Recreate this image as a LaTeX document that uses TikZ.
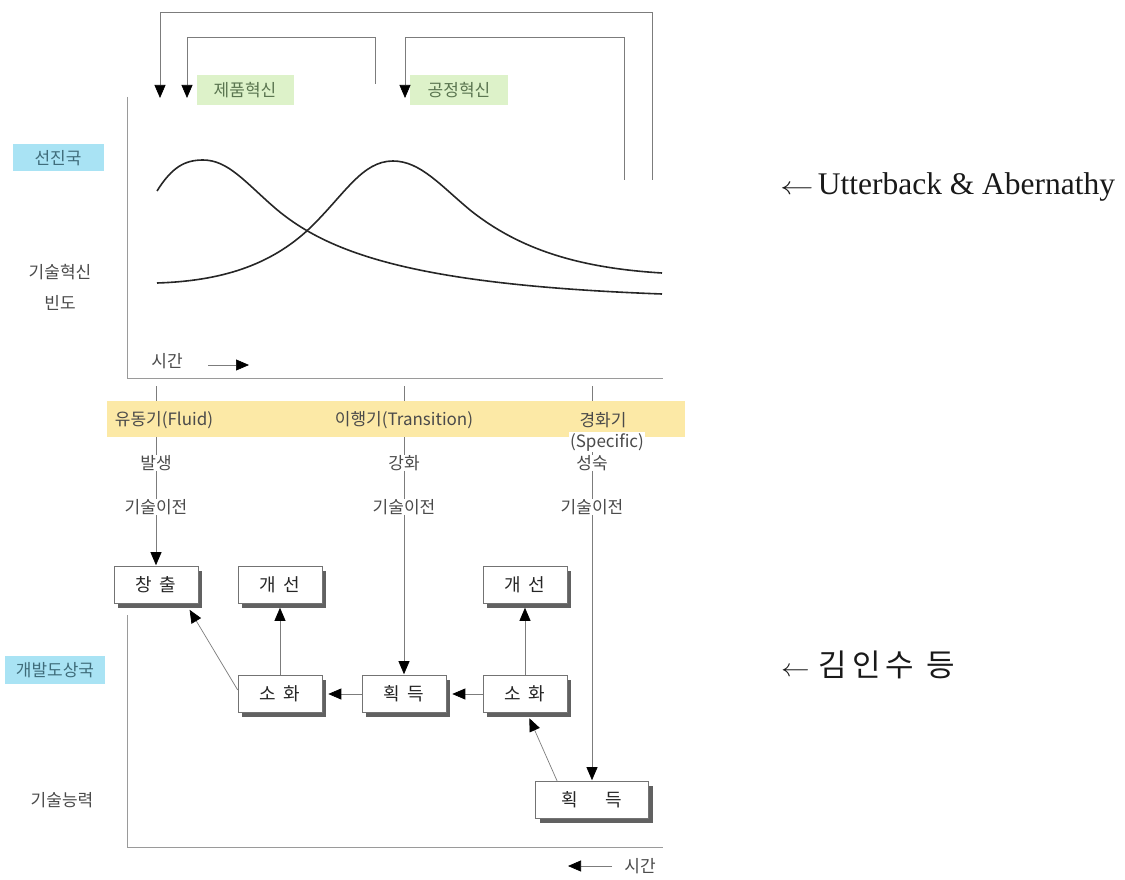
\documentclass[tikz,border=0pt]{standalone}
\usepackage{fontspec}
\setmainfont{Liberation Serif}
\newfontfamily\kr{Noto Sans CJK KR}
\usetikzlibrary{arrows.meta,calc,shadows}
\definecolor{txt}{HTML}{4A4A4A}
\definecolor{linegray}{HTML}{7C7C7C}
\definecolor{axisgray}{HTML}{9A9A9A}
\definecolor{bandbg}{HTML}{FCE9A6}
\definecolor{greenbg}{HTML}{DDF2C9}
\definecolor{greentxt}{HTML}{5A7550}
\definecolor{bluebg}{HTML}{A9E3F4}
\definecolor{bluetxt}{HTML}{3F6C7A}
\begin{document}
\begin{tikzpicture}[x=1pt,y=-1pt,
  every node/.style={inner sep=0pt},
  lbl/.style={font=\kr\fontsize{17}{20}\selectfont, text=txt},
  stage/.style={draw=black!55, fill=white, line width=0.6pt,
    minimum width=84pt, minimum height=37pt,
    font=\kr\fontsize{18}{21}\selectfont, text=black!85,
    drop shadow={shadow xshift=4pt, shadow yshift=-4pt, fill=black!62, opacity=1}},
  conn/.style={draw=linegray, line width=0.7pt},
  head/.style={-{Triangle[length=13pt,width=11pt,black]}},
  tip/.style={conn, head},
  curve/.style={draw=black!85, line width=1.6pt},
  axis/.style={draw=axisgray, line width=0.8pt},
  tag/.style={font=\kr\fontsize{17}{20}\selectfont}]
\useasboundingbox (0,0) rectangle (1125,880);

% ---------- upper panel: innovation frequency curves ----------
\draw[axis] (127,97) -- (127,378) -- (663,378);

% product innovation
\draw[curve] (157,191) .. controls (172,167) and (185,160) .. (203,160)
  .. controls (228,160) and (245,182) .. (275,208)
  .. controls (330,255) and (420,285) .. (662,294);
% process innovation
\draw[curve] (157,283) .. controls (220,281) and (270,266) .. (310,228)
  .. controls (345,194) and (362,161) .. (393,161)
  .. controls (420,161) and (440,185) .. (470,210)
  .. controls (520,250) and (580,268) .. (662,273);

% innovation type labels
\node[tag, fill=greenbg, text=greentxt, minimum width=97pt, minimum height=30pt] (prod) at (245,90) {제품혁신};
\node[tag, fill=greenbg, text=greentxt, minimum width=98pt, minimum height=30pt] (proc) at (459,90) {공정혁신};

% feedback loops above the chart
\coordinate (fbA) at (652,180);
\coordinate (fbAend) at (160,98);
\coordinate (fbB) at (375,84);
\coordinate (fbBend) at (187,98);
\coordinate (fbC) at (624,180);
\coordinate (fbCend) at (405,98);
\draw[tip] (fbA) |- (160,12) -- (fbAend);
\draw[tip] (fbB) |- (187,37) -- (fbBend);
\draw[tip] (fbC) |- (405,37) -- (fbCend);

% axis labels
\node[tag, fill=bluebg, text=bluetxt, minimum width=91pt, minimum height=27pt] (adv) at (58,158) {선진국};
\node[lbl] (freq1) at (60,272) {기술혁신};
\node[lbl] (freq2) at (60,303) {빈도};
\node[lbl] (timeA) at (167,361) {시간};
\coordinate (tA1) at (208,365);
\coordinate (tA2) at (249,365);
\draw[tip] (tA1) -- (tA2);

% ---------- phase column texts ----------
\node[lbl] (p1a) at (156,463) {발생};
\node[lbl] (p1b) at (156,507) {기술이전};
\node[lbl] (p2a) at (404,463) {강화};
\node[lbl] (p2b) at (404,507) {기술이전};
\node[lbl] (p3a) at (592,463) {성숙};
\node[lbl] (p3b) at (592,507) {기술이전};

\coordinate (k1) at (156,386);
\coordinate (k2) at (404,386);
\coordinate (k3) at (592,386);

% ---------- lower panel: catching-up process ----------
\node[stage] (cc) at (156,585) {창\hspace{7pt}출};
\node[stage] (g1) at (280,585) {개\hspace{7pt}선};
\node[stage] (s1) at (280,694) {소\hspace{7pt}화};
\node[stage] (h1) at (404,694) {획\hspace{7pt}득};
\node[stage] (s2) at (525,694) {소\hspace{7pt}화};
\node[stage] (g2) at (525,585) {개\hspace{7pt}선};
\node[stage, minimum width=113pt] (h2) at (592,800) {획\hspace{28pt}득};

% vertical column lines
\draw[conn] (k1) -- (p1a);
\draw[conn] (p1a) -- (p1b);
\draw[tip, shorten >=1pt] (p1b) -- (cc);
\draw[conn] (k2) -- (p2a);
\draw[conn] (p2a) -- (p2b);
\draw[tip, shorten >=1pt] (p2b) -- (h1);
\draw[conn] (k3) -- (p3a);
\draw[conn] (p3a) -- (p3b);
\draw[tip, shorten >=1pt] (p3b) -- (h2);

% stage band
\fill[bandbg] (107,401) rectangle (685,437);
\node[lbl] (ph1) at (164,420) {유동기(Fluid)};
\node[lbl] (ph2) at (404,420) {이행기(Transition)};
\node[lbl] (ph3) at (603,420) {경화기};
\node[lbl, fill=white, inner sep=1pt] (ph3b) at (607,442) {(Specific)};

% flows between stages
\draw[tip, shorten >=7pt] ($(s1.west)+(0,-4)$) -- ($(cc.south)+(30,0)$);
\draw[tip, shorten >=4pt] (s1.north) -- (g1.south);
\draw[tip, shorten >=6pt] (h1.west) -- (s1.east);
\draw[tip, shorten >=6pt] (s2.west) -- (h1.east);
\draw[tip, shorten >=4pt] (s2.north) -- (g2.south);
\draw[tip, shorten >=6pt] ($(h2.north west)+(22,0)$) -- ($(s2.south)+(2,0)$);

\draw[axis] (127,615) -- (127,847) -- (663,847);

\node[tag, fill=bluebg, text=bluetxt, minimum width=100pt, minimum height=28pt] (dev) at (55,670) {개발도상국};
\node[lbl] (cap) at (62,800) {기술능력};
\node[lbl] (timeB) at (640,866) {시간};
\coordinate (tB1) at (612,866);
\coordinate (tB2) at (568,866);
\draw[tip] (tB1) -- (tB2);

% ---------- source notes ----------
\node[anchor=west, font=\fontsize{31.5}{36}\selectfont, text=black!90] (srcA) at (780,187)
  {\scalebox{1.35}[1]{$\leftarrow$}\hspace{4pt}Utterback \& Abernathy};
\node[anchor=west, font=\kr\fontsize{31}{36}\selectfont, text=black!90] (srcB) at (781,665)
  {\scalebox{1.15}[1]{$\leftarrow$}\hspace{9pt}김\hspace{5pt}인\hspace{5pt}수\hspace{12pt}등};
\end{tikzpicture}
\end{document}
